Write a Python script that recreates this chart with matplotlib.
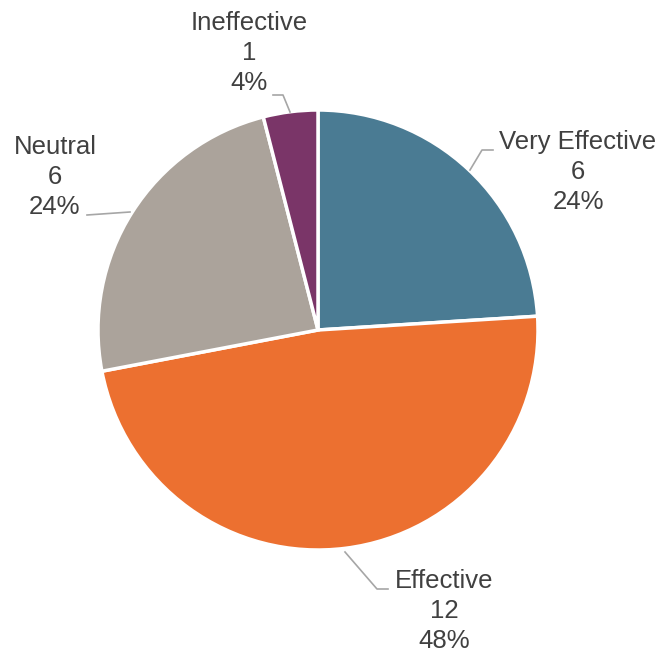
import matplotlib
matplotlib.use("Agg")
import matplotlib.pyplot as plt

categories = ["Very Effective", "Effective", "Neutral", "Ineffective"]
values = [6, 12, 6, 1]
colors = ["#4A7B93", "#EC7030", "#ABA39B", "#7A3568"]

W, H = 660, 652
fig = plt.figure(figsize=(W / 100, H / 100), dpi=100)
ax = fig.add_axes([0, 0, 1, 1])
ax.set_xlim(0, W)
ax.set_ylim(0, H)
ax.set_aspect("equal")
ax.axis("off")

cx, cy, r = 318, H - 330, 220
ax.pie(values, colors=colors, startangle=90, counterclock=False,
       center=(cx, cy), radius=r,
       wedgeprops=dict(edgecolor="white", linewidth=2.5))
ax.set_xlim(0, W)
ax.set_ylim(0, H)

total = sum(values)
label_pos = {
    "Very Effective": (578, 172),
    "Effective": (444, 611),
    "Neutral": (55, 177),
    "Ineffective": (249, 53),
}
leaders = {
    "Very Effective": [(493, 150), (482, 150), (470, 170)],
    "Effective": [(345, 552), (377, 589), (388, 589)],
    "Neutral": [(87, 215), (130, 212)],
    "Ineffective": [(273, 95), (283, 95), (290, 112)],
}
for cat, v in zip(categories, values):
    pct = round(100 * v / total)
    x, y = label_pos[cat]
    ax.text(x, H - y, f"{cat}\n{v}\n{pct}%", ha="center", va="center",
            fontsize=18.5, color="#404040", family="Liberation Sans",
            linespacing=1.3)
    pts = leaders[cat]
    ax.plot([p[0] for p in pts], [H - p[1] for p in pts], color="#A6A6A6", lw=1.2)

fig.savefig("out.png", dpi=100)
